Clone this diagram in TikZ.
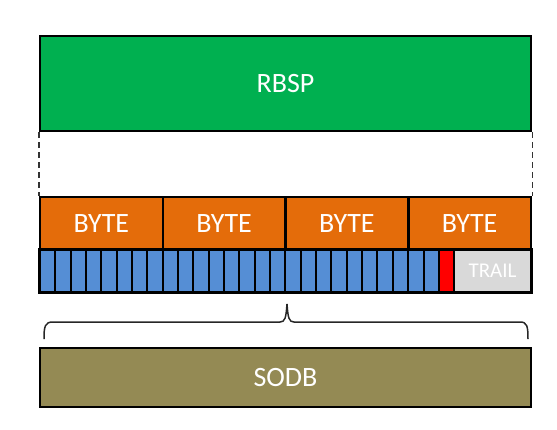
\documentclass[tikz,border=0pt]{standalone}
\usepackage{fontspec}
\setmainfont{Carlito}

\definecolor{rbspgreen}{RGB}{0,176,80}
\definecolor{byteorange}{RGB}{228,108,10}
\definecolor{bitblue}{RGB}{85,142,213}
\definecolor{trailgray}{RGB}{217,217,217}
\definecolor{sodbolive}{RGB}{148,138,84}

\begin{document}
\begin{tikzpicture}[x=1pt, y=-1pt,
  box/.style={draw, line width=2.5pt, inner sep=0pt, text=white, font=\fontsize{28}{30}\selectfont},
  bit/.style={draw, line width=2pt, inner sep=0pt, minimum width=15.34pt, minimum height=42pt}]
\useasboundingbox (0,0) rectangle (557,429);

\node[box, fill=rbspgreen, minimum width=491pt, minimum height=95pt] (rbsp) at (285.5,83.5) {RBSP};

% bytes
\foreach \i in {0,...,3}
  \node[box, fill=byteorange, minimum width=122.75pt, minimum height=53pt] (byte\i) at ({40+122.75*(\i+0.5)},223.5) {\raisebox{-2pt}{BYTE}};

% bits
\foreach \b in {0,...,25}
  \node[bit, fill=bitblue] (bit\b) at ({40+15.34*(\b+0.5)},271) {};
\node[bit, fill=red] (bit26) at ({40+15.34*26.5},271) {};
\node[bit, fill=trailgray, minimum width=76.7pt, text=white, font=\fontsize{21}{23}\selectfont] (trail) at ({40+15.34*27+38.35},271) {TRAIL};
\draw[line width=2.5pt] (bit0.north west) rectangle (trail.south east);

\draw[dashed, line width=1.5pt, dash pattern=on 6pt off 4pt, black!80] (rbsp.south west) -- (byte0.north west);
\draw[dashed, line width=1.5pt, dash pattern=on 6pt off 4pt, black!80] (rbsp.south east) -- (byte3.north east);

\node[box, fill=sodbolive, minimum width=491pt, minimum height=59pt] (sodb) at (285.5,377.5) {SODB};

% brace
\coordinate (braceL) at (44,339);
\coordinate (braceTip) at (287,304);
\coordinate (braceR) at (528,339);
\draw[line width=1.5pt, black!85]
  (braceL) .. controls (44,326) and (45,322) .. (53,322) -- (280,322)
  .. controls (285,322) and (286,318) .. (braceTip)
  .. controls (288,318) and (289,322) .. (294,322) -- (520,322)
  .. controls (527,322) and (528,326) .. (braceR);

\end{tikzpicture}
\end{document}
